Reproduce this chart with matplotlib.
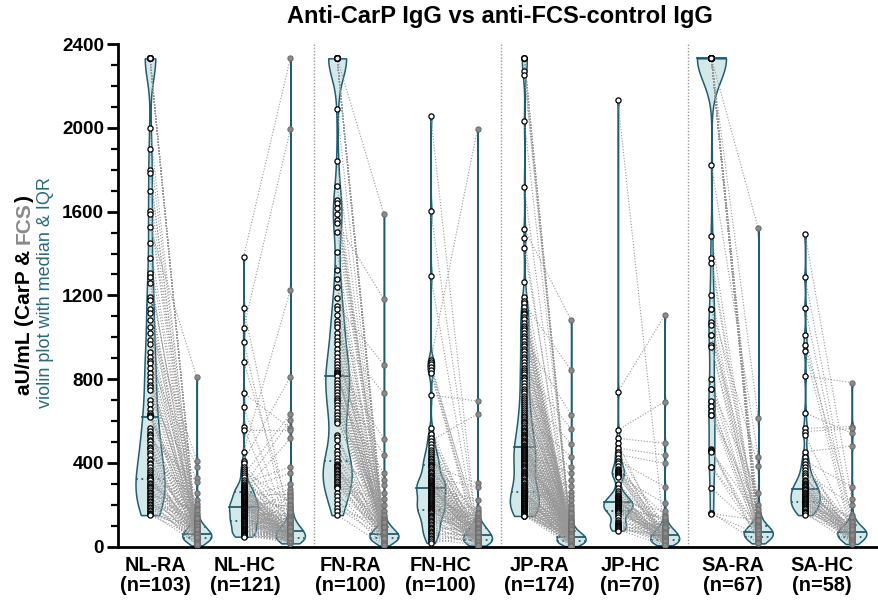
import numpy as np
import matplotlib
matplotlib.use("Agg")
import matplotlib.pyplot as plt
from matplotlib.collections import LineCollection

plt.rcParams["font.family"] = ["Liberation Sans", "DejaVu Sans"]

groups = ["NL-RA", "NL-HC", "FN-RA", "FN-HC", "JP-RA", "JP-HC", "SA-RA", "SA-HC"]
group_n = [103, 121, 100, 100, 174, 70, 67, 58]

# values (aU/mL, capped at 2333); the i-th CarP value pairs with the i-th FCS value
nl_ra_carp = [2333, 2333, 2333, 2333, 2333, 2333, 2333, 2333, 2333, 2333, 2333,
              2001, 1900, 1799, 1783, 1700, 1604, 1589, 1525, 1450, 1380, 1308, 1286, 1260, 1190, 1178, 1133, 1117,
              1082, 1050, 1020, 987, 967, 930,
              905, 888, 875, 851, 827, 811, 792, 772, 760, 748, 700, 680, 655, 639, 628, 625, 622, 620,
              565, 552, 540, 533, 521, 510, 502, 488, 476, 470, 459, 447, 436, 420, 414, 401, 392, 380, 366, 357,
              345, 339, 331, 329, 328,
              320, 316, 305, 300, 291, 284, 279, 270, 262, 255, 248, 240, 233, 226, 219, 211, 205, 199, 190, 184,
              176, 168, 161, 157, 153, 150]
nl_ra_fcs = [35, 42, 28, 51, 38, 47, 33, 55, 40, 30, 45, 26, 60, 37, 49, 22,
             110, 18, 808, 75, 92, 24, 68, 130, 58, 44, 85, 16, 72, 410, 64, 95, 12, 150,
             53, 88, 381, 70, 41, 62, 100, 120, 57, 36, 326, 80, 48, 66, 140, 29, 96, 73,
             254, 61, 105, 34, 90, 310, 52, 77, 20, 115, 67, 43, 222, 83, 59, 10, 98, 39, 125, 56, 190, 74, 31, 87, 46,
             63, 15, 102, 50, 160, 27, 79, 8, 112, 65, 175, 32, 94, 54, 5, 81, 21, 135, 69, 39, 205, 58, 14, 99, 86,
             45]

nl_hc_carp = [1385, 1142, 1042, 978, 883, 735, 665, 569, 556, 453, 410, 397, 382, 370, 362, 352, 341, 333, 318, 309,
              300, 296, 288, 284, 281,
              278, 276, 271, 268, 265, 262, 259, 257, 252, 249, 246, 243, 240, 238, 236, 233, 231, 228, 224, 220,
              217, 214, 212, 210, 207, 205, 203, 201, 199, 196, 194, 192, 191, 189, 188,
              187, 185, 183, 180, 178, 177, 174, 171, 170, 166, 163, 161, 158, 155, 154, 150, 147, 145, 142, 140,
              137, 135, 133, 130, 129, 127, 126, 124, 123, 122, 122,
              118, 115, 112, 108, 106, 101, 98, 96, 92, 89, 86, 84, 80, 77, 75, 72, 70, 67, 64, 62, 60, 58, 56, 54,
              52, 51, 50, 49, 48, 47]
nl_hc_fcs = [2333, 95, 1993, 40, 160, 564, 70, 30, 556, 1225, 811, 120, 52, 86, 210, 33, 633, 65, 140, 25, 381, 48,
             604, 77, 18,
             349, 60, 105, 28, 92, 517, 44, 170, 81, 36, 250, 58, 130, 22, 99, 71, 300, 39, 88, 54, 190, 31, 115, 67,
             46, 275, 84, 20, 150, 62, 35, 108, 76, 42, 230,
             79, 57, 125, 27, 90, 50, 200, 38, 74, 15, 145, 66, 32, 102, 55, 260, 29, 83, 47, 118, 24, 69, 180, 37,
             93, 53, 16, 135, 61, 41, 98,
             34, 78, 21, 112, 59, 26, 87, 45, 165, 30, 72, 19, 100, 51, 240, 35, 68, 23, 128, 56, 43, 80, 17, 220, 63,
             28, 94, 49, 75, 39]

fn_ra_carp = [2333, 2333, 2333, 2333, 2333, 2333, 2333, 2333, 2333, 2333, 2333, 2333, 2333, 2333,
              2090, 1843, 1722, 1656, 1640, 1616, 1589, 1560, 1547, 1504, 1407, 1320, 1280, 1240, 1186, 1150, 1136,
              1104, 1079, 1061, 1047, 1022, 1000, 980, 967, 945, 923, 905, 888, 872, 859, 845, 835, 827, 822,
              819, 815,
              795, 780, 765, 752, 740, 725, 712, 700, 690, 676, 660, 645, 630, 615, 600, 588, 533, 521, 509, 480,
              455, 440, 425, 410,
              396, 390, 385, 378, 372, 366, 360, 352, 345, 338, 330, 322, 315, 306, 298, 290, 283, 278, 254, 240,
              222, 205, 185, 170, 150]
fn_ra_fcs = [45, 30, 62, 38, 25, 55, 41, 70, 33, 50, 28, 58,
             90, 1589, 20, 75, 40, 110, 64, 35, 140, 52, 1181, 85, 22, 66, 48, 130, 78, 867, 36, 95, 59, 16, 105, 44,
             732, 71, 27, 88, 54, 170, 39, 80, 514, 61, 24, 120, 46,
             68, 57,
             437, 32, 99, 65, 18, 84, 350, 43, 112, 60, 29, 76, 150, 37, 92, 318, 53, 14, 82, 47, 200, 63, 26, 97,
             294, 49, 73, 21, 125, 56, 34, 87, 42, 254, 69, 12, 101, 51, 31, 79, 225, 59, 19, 93, 8, 67, 40, 115, 5]

fn_hc_carp = [2058, 1603, 1292, 891, 880, 870, 858, 845, 830, 724, 564, 540, 520, 505, 490, 475, 462, 450, 440, 432,
              425, 418, 410, 402, 396,
              390, 385, 378, 370, 362, 355, 349, 342, 336, 330, 325, 320, 316, 311, 306, 302, 298, 294, 291, 288,
              285, 283, 281, 280,
              279, 277,
              272, 266, 260, 255, 249, 244, 240, 235, 231, 226, 221, 217, 213, 209, 204, 200, 196, 192, 189, 186,
              183, 180, 178, 176,
              172, 168, 163, 158, 152, 146, 140, 134, 128, 121, 115, 108, 102, 95, 88, 82, 76, 70, 64, 57, 50, 43,
              36, 27, 17]
fn_hc_fcs = [40, 60, 25, 1996, 85, 30, 110, 15, 70, 695, 50, 22, 95, 633, 35, 130, 65, 18, 80, 45, 28, 150, 58, 12,
             100,
             302, 38, 75, 20, 120, 55, 9, 88, 42, 286, 68, 26, 105, 48, 16, 92, 62, 33, 170, 52, 14, 78, 36, 222,
             66, 64,
             24, 90, 44, 11, 115, 57, 30, 82, 19, 140, 61, 37, 72, 10, 98, 47, 27, 185, 54, 21, 86, 41, 6, 125,
             34, 74, 17, 102, 51, 29, 67, 8, 93, 43, 23, 160, 59, 13, 79, 39, 4, 112, 53, 25, 84, 31, 7, 71, 46]

jp_ra_carp = [2333, 2333, 2333, 2333, 2333, 2333,
              2273, 2251, 2033, 1718, 1517, 1476, 1425, 1265, 1190, 1175,
              1162, 1145, 1127, 1118, 1111, 1098, 1086, 1070, 1054, 1045, 1035, 1020, 1007, 995, 980, 968, 956, 944,
              932, 920, 908, 896, 884, 868, 852, 842, 833, 822, 812, 803, 795,
              780, 768, 755, 745, 732, 720, 712, 700, 690, 680, 670, 660, 650, 642, 633, 625, 618, 610, 602, 595,
              588, 580, 572, 565, 558, 552, 546, 540, 534, 528, 522, 517, 511, 505, 499, 493, 487, 482, 478, 475,
              472, 468, 463, 459, 455, 450, 446, 441, 437, 432, 428, 423, 419, 414, 410, 405, 401, 396, 392, 387,
              383, 378, 373, 368, 363, 358, 353, 348, 342, 337, 331, 325, 319, 313, 307, 301, 295, 289, 283, 278,
              273, 268, 264, 261,
              258, 255, 252, 249, 246, 243, 240, 237, 234, 231, 228, 225, 222, 219, 216, 213, 210, 207, 204, 201,
              198, 195, 192, 189, 186, 183, 180, 177, 174, 171, 168, 165, 162, 160, 158, 156, 154, 152, 150, 149,
              148, 147, 146]
jp_ra_fcs = [30, 45, 22, 60, 38, 15, 52, 27,
             70, 41, 1082, 18, 95, 33, 56, 24,
             843, 48, 12, 80, 36, 65, 21, 110, 44, 9, 75, 29, 58, 628, 17, 90, 39, 53, 25, 130, 47, 14, 68, 34, 560,
             19, 85, 42, 62, 11, 100,
             31, 55, 23, 490, 72, 16, 46, 88, 28, 59, 10, 120, 37, 64, 20, 429, 50, 8, 78, 35, 57, 26, 150, 43, 13,
             69, 32, 98, 54, 7, 381, 40, 61, 18, 83, 30, 49, 22, 140, 66,
             24, 51, 5, 92, 38, 63, 15, 350, 44, 27, 74, 11, 57, 33, 105, 19, 48, 67, 26, 170, 39, 6, 82, 53, 20,
             61, 36, 290, 12, 47, 71, 29, 55, 17, 125, 41, 9, 79, 34, 58, 23, 200, 45, 14,
             65, 31, 52, 4, 87, 37, 260, 18, 60, 42, 25, 115, 50, 8, 73, 28, 56, 320, 16, 39, 96, 21, 62, 35, 3,
             185, 46, 13, 70, 30, 54, 240, 19, 43, 84, 10, 59, 26, 160, 38, 2, 220, 49]

jp_hc_carp = [2132, 740, 556, 517, 493, 470, 452, 440, 425, 410, 398, 385, 372, 365,
              360, 355, 350, 346, 342, 338, 333,
              300, 280, 265, 255, 248, 242, 237, 233, 229, 225, 222, 219, 216, 214,
              212, 210,
              207, 204, 201, 198, 196, 193, 190, 188, 185, 182, 180, 177, 175, 172, 170, 168, 166,
              160, 150, 140, 128, 118, 112, 108, 104, 100, 97, 94, 91, 88, 84, 80, 76]
jp_hc_fcs = [45, 1104, 692, 493, 30, 437, 80, 397, 20, 286, 55, 110, 38, 70,
             150, 25, 95, 60, 18, 206, 42,
             66, 12, 88, 35, 120, 50, 22, 75, 15, 100, 47, 28, 170, 58,
             63, 64,
             33, 90, 19, 52, 130, 40, 10, 78, 26, 61, 24, 140, 36, 8, 72, 44, 29,
             57, 16, 85, 31, 68, 21, 105, 48, 13, 74, 39, 27, 92, 53, 6, 65]

sa_ra_carp = [2333, 2333, 2333, 2333, 2333, 2333, 2333, 2333, 2333, 2333, 2333, 2333, 2333, 2333, 2333, 2333,
              2333, 2333, 2333, 2333, 2333, 2333, 2333, 2333, 2333, 2333, 2333, 2333, 2333, 2333, 2333, 2333,
              2333, 2333, 2333, 2333,
              1821, 1485, 1377, 1353, 1202, 1136, 1136, 1074, 1058, 1010, 1010, 963, 952, 799, 751, 751, 697, 671,
              649, 628, 628, 464, 460, 457, 453, 381, 381, 278, 161, 158, 155]
sa_ra_fcs = [1520, 60, 45, 90, 70, 55, 110, 38, 82, 65, 50, 95, 75, 42, 120, 58, 85, 30, 68, 100, 48, 78, 62, 140,
             52, 88, 35, 72, 57, 105, 44, 80,
             612, 25, 160, 92, 429, 40, 66, 20, 130, 384, 54, 86, 33, 200, 74, 15, 98, 47, 254, 61, 28, 115, 84, 51,
             180, 36, 69, 22, 150, 93, 46, 79, 18, 125, 59]

sa_hc_carp = [1493, 1286, 1141, 1010, 963, 936, 815, 639, 565, 549, 533, 453, 430, 410, 392, 378, 365, 352, 340, 330,
              320, 312, 303, 298, 295, 288, 282, 277, 275,
              273, 272,
              268, 262, 257, 252, 248, 243, 238, 233, 229, 225, 221, 217, 213, 209, 205, 201, 197, 193, 189, 185,
              181, 177, 172, 167, 162, 158, 150]
sa_hc_fcs = [225, 120, 90, 60, 150, 45, 783, 541, 573, 564, 80, 480, 30, 286, 65, 100, 50, 200, 38, 75, 110, 25, 85,
             55, 130, 42, 70, 95, 20,
             72, 68,
             35, 88, 58, 15, 105, 48, 78, 28, 62, 140, 40, 82, 52, 18, 92, 66, 33, 115, 57, 24, 74, 46, 98, 63, 12,
             86, 53]

carp_sets = [nl_ra_carp, nl_hc_carp, fn_ra_carp, fn_hc_carp, jp_ra_carp, jp_hc_carp, sa_ra_carp, sa_hc_carp]
fcs_sets = [nl_ra_fcs, nl_hc_fcs, fn_ra_fcs, fn_hc_fcs, jp_ra_fcs, jp_hc_fcs, sa_ra_fcs, sa_hc_fcs]

# violin smoothing (aU/mL): (CarP, FCS) for each group
smoothing = [(100, 20), (25, 25), (95, 18), (35, 20), (60, 15), (25, 18), (110, 25), (35, 20)]

TEAL = "#1e5e70"
FILL = "#d5e8e9"
PAIR_LINE = "#979797"


def draw_violin(ax, pos, values, bw, half=0.31):
    v = np.asarray(values, float)
    ys = np.linspace(v.min(), v.max(), 400)
    dens = np.exp(-0.5 * ((ys[:, None] - v[None, :]) / bw) ** 2).sum(axis=1)
    w = half * dens / dens.max()
    ax.fill_betweenx(ys, pos - w, pos + w, facecolor=FILL, edgecolor=TEAL, lw=1.1, zorder=1)
    q1, med, q3 = np.percentile(v, [25, 50, 75])
    for q, ls in ((med, "-"), (q1, (0, (1, 2))), (q3, (0, (1, 2)))):
        hw = np.interp(q, ys, w)
        ax.plot([pos - hw, pos + hw], [q, q], color=TEAL, lw=1.3, ls=ls, zorder=2)


fig = plt.figure(figsize=(8.79, 6.02), dpi=100)
ax = fig.add_axes([118 / 879, 55.5 / 602, 761 / 879, 502.2 / 602])

segments = []
for g in range(len(groups)):
    p_carp = 1 + 2 * g
    p_fcs = 2 + 2 * g
    draw_violin(ax, p_carp, carp_sets[g], smoothing[g][0])
    draw_violin(ax, p_fcs, fcs_sets[g], smoothing[g][1])
    for c, f in zip(carp_sets[g], fcs_sets[g]):
        segments.append([(p_carp, c), (p_fcs, f)])

ax.add_collection(LineCollection(segments, colors=PAIR_LINE, linewidths=0.8,
                                 linestyles=[(0, (1, 1.6))], zorder=3))

for g in range(len(groups)):
    p_carp = 1 + 2 * g
    ax.scatter(np.full(len(fcs_sets[g]), p_carp + 1.0), fcs_sets[g], s=14, facecolor="#8c8c8c",
               edgecolor="#6e6e6e", linewidths=0.8, zorder=4)
    ax.scatter(np.full(len(carp_sets[g]), p_carp), carp_sets[g], s=14, facecolor="white",
               edgecolor="black", linewidths=0.9, zorder=5)

for xs in (4.5, 8.5, 12.5):
    ax.axvline(xs, color="#9a9a9a", lw=1.0, ls=(0, (1, 1.3)), zorder=0)

ax.set_xlim(0.316, 16.58)
ax.set_ylim(0, 2400)
ax.spines["top"].set_visible(False)
ax.spines["right"].set_visible(False)
ax.spines["left"].set_linewidth(2)
ax.spines["bottom"].set_linewidth(2)

ax.set_yticks(np.arange(0, 2401, 400))
ax.set_yticks(np.arange(0, 2401, 100), minor=True)
ax.tick_params(axis="y", which="major", length=8, width=2, labelsize=13.6, pad=2)
ax.tick_params(axis="y", which="minor", length=5, width=1.6)
for lab in ax.get_yticklabels():
    lab.set_fontweight("bold")

label_pos = [1.11, 3.03, 5.29, 7.20, 9.33, 11.26, 13.46, 15.36]
ax.set_xticks(label_pos)
ax.set_xticklabels([f"{g}\n(n={n})" for g, n in zip(groups, group_n)], fontweight="bold",
                   fontsize=14.3, linespacing=1.05)
ax.tick_params(axis="x", length=0, pad=7)

fig.text(0.569, 0.972, "Anti-CarP IgG vs anti-FCS-control IgG", ha="center", va="center",
         fontsize=17, fontweight="bold")

# two-line y label; the first line has a grey "FCS"
renderer = fig.canvas.get_renderer()
y1 = 395
for txt, color in (("aU/mL (CarP & ", "black"), ("FCS", "#8a8a8a"), (")", "black")):
    t = fig.text(30 / 879, 1 - y1 / 602, txt.rstrip(), rotation=90, rotation_mode="anchor",
                 ha="left", va="baseline", fontsize=15, fontweight="bold", color=color)
    y1 -= t.get_window_extent(renderer).height
    if txt.endswith(" "):
        y1 -= 15 * 100 / 72 * 0.278
fig.text(50 / 879, 1 - 408 / 602, "violin plot with median & IQR", rotation=90, rotation_mode="anchor",
         ha="left", va="baseline", fontsize=13, color="#2a6a7c")

fig.savefig("out.png", dpi=100)
